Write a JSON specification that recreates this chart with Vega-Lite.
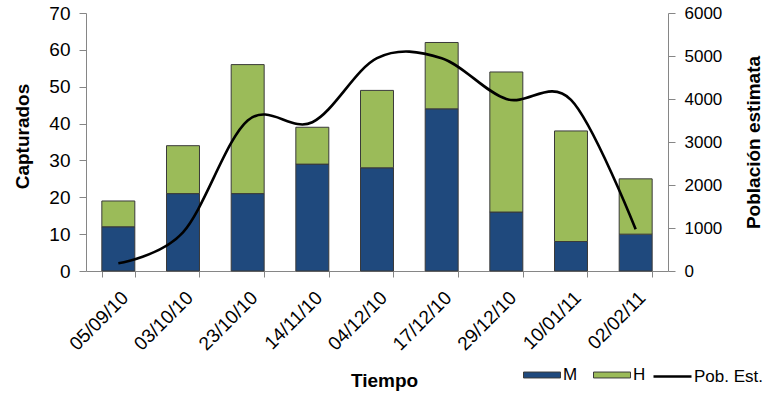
{
  "$schema": "https://vega.github.io/schema/vega-lite/v6.json",
  "width": 582,
  "height": 258,
  "autosize": {"type": "none"},
  "padding": {"left": 86, "top": 13, "right": 103, "bottom": 122},
  "config": {
    "font": "Liberation Sans",
    "view": {"stroke": null},
    "axis": {
      "domainColor": "#868686",
      "tickColor": "#868686",
      "labelColor": "#000000",
      "titleColor": "#000000",
      "labelFontSize": 17,
      "titleFontSize": 19,
      "titleFontWeight": "bold",
      "grid": false
    }
  },
  "datasets": {
    "capturas": [
      {"fecha": "05/09/10", "sexo": "M", "n": 12},
      {"fecha": "05/09/10", "sexo": "H", "n": 7},
      {"fecha": "03/10/10", "sexo": "M", "n": 21},
      {"fecha": "03/10/10", "sexo": "H", "n": 13},
      {"fecha": "23/10/10", "sexo": "M", "n": 21},
      {"fecha": "23/10/10", "sexo": "H", "n": 35},
      {"fecha": "14/11/10", "sexo": "M", "n": 29},
      {"fecha": "14/11/10", "sexo": "H", "n": 10},
      {"fecha": "04/12/10", "sexo": "M", "n": 28},
      {"fecha": "04/12/10", "sexo": "H", "n": 21},
      {"fecha": "17/12/10", "sexo": "M", "n": 44},
      {"fecha": "17/12/10", "sexo": "H", "n": 18},
      {"fecha": "29/12/10", "sexo": "M", "n": 16},
      {"fecha": "29/12/10", "sexo": "H", "n": 38},
      {"fecha": "10/01/11", "sexo": "M", "n": 8},
      {"fecha": "10/01/11", "sexo": "H", "n": 30},
      {"fecha": "02/02/11", "sexo": "M", "n": 10},
      {"fecha": "02/02/11", "sexo": "H", "n": 15}
    ],
    "poblacion": [
      {"fecha": "05/09/10", "pob": 180},
      {"fecha": "03/10/10", "pob": 900},
      {"fecha": "23/10/10", "pob": 3500},
      {"fecha": "14/11/10", "pob": 3460},
      {"fecha": "04/12/10", "pob": 4950},
      {"fecha": "17/12/10", "pob": 4950},
      {"fecha": "29/12/10", "pob": 4000},
      {"fecha": "10/01/11", "pob": 3980},
      {"fecha": "02/02/11", "pob": 970}
    ]
  },
  "encoding": {
    "x": {
      "field": "fecha",
      "type": "ordinal",
      "sort": null,
      "scale": {
        "domain": ["05/09/10", "03/10/10", "23/10/10", "14/11/10", "04/12/10", "17/12/10", "29/12/10", "10/01/11", "02/02/11"],
        "paddingInner": 0.49,
        "paddingOuter": 0.245
      },
      "axis": {
        "title": "Tiempo",
        "labelAngle": -45,
        "labelFontSize": 19,
        "tickBand": "extent",
        "tickSize": 6,
        "labelPadding": 11,
        "titleX": 298,
        "titleY": 109,
        "titleBaseline": "middle",
        "titleAnchor": null,
        "titleAlign": "center"
      }
    }
  },
  "layer": [
    {
      "data": {"name": "capturas"},
      "mark": {"type": "bar", "stroke": "#3a3a3a", "strokeWidth": 1},
      "encoding": {
        "y": {
          "field": "n",
          "type": "quantitative",
          "stack": "zero",
          "scale": {"domain": [0, 70]},
          "axis": {
            "title": "Capturados",
            "values": [0, 10, 20, 30, 40, 50, 60, 70],
            "labelFontSize": 19,
            "tickSize": 7,
            "labelPadding": 9,
            "titleAngle": -90,
            "titleX": -64,
            "titleY": 123,
            "titleAlign": "center",
            "titleBaseline": "middle",
            "titleAnchor": null
          }
        },
        "fill": {
          "field": "sexo",
          "type": "nominal",
          "scale": {"domain": ["M", "H"], "range": ["#1F497D", "#9BBB59"]},
          "legend": {
            "title": null,
            "orient": "none",
            "direction": "horizontal",
            "legendX": 437,
            "legendY": 343,
            "padding": 0,
            "symbolType": "M-1,-0.16H1V0.16H-1Z",
            "symbolSize": 1369,
            "symbolStrokeColor": "#3a3a3a",
            "symbolStrokeWidth": 1,
            "labelFontSize": 17,
            "labelOffset": 2,
            "columnPadding": 13
          }
        },
        "order": {"field": "sexo", "sort": "descending"}
      }
    },
    {
      "data": {"name": "poblacion"},
      "mark": {"type": "line", "interpolate": "cardinal", "strokeWidth": 2.6, "color": "#000000"},
      "encoding": {
        "y": {
          "field": "pob",
          "type": "quantitative",
          "scale": {"domain": [0, 6000]},
          "axis": {
            "orient": "right",
            "title": "Población estimata",
            "values": [0, 1000, 2000, 3000, 4000, 5000, 6000],
            "format": "d",
            "tickSize": 7,
            "labelPadding": 9,
            "titleAngle": -90,
            "titleX": 85,
            "titleY": 129,
            "titleAlign": "center",
            "titleBaseline": "middle",
            "titleAnchor": null
          }
        },
        "stroke": {
          "datum": "Pob. Est.",
          "type": "nominal",
          "scale": {"domain": ["Pob. Est."], "range": ["#000000"]},
          "legend": {
            "title": null,
            "orient": "none",
            "legendX": 566,
            "legendY": 343,
            "padding": 0,
            "symbolType": "stroke",
            "symbolSize": 1444,
            "symbolStrokeWidth": 2.6,
            "labelFontSize": 17,
            "labelOffset": 1
          }
        }
      }
    }
  ],
  "resolve": {"scale": {"y": "independent"}}
}
